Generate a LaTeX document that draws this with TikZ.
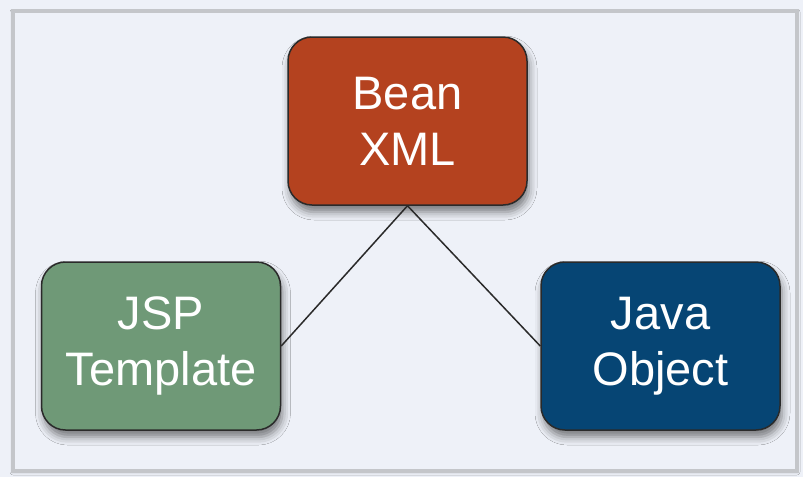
\documentclass[tikz,border=0pt]{standalone}
\usepackage{fontspec}
\setmainfont{Liberation Sans}
\usetikzlibrary{shadows.blur}
\definecolor{pagebg}{HTML}{EEF1F8}
\definecolor{framegray}{HTML}{C4C6CA}
\definecolor{beanred}{HTML}{B4421F}
\definecolor{jspgreen}{HTML}{6F9977}
\definecolor{javablue}{HTML}{064574}
\definecolor{edgedark}{HTML}{2A2A2A}
\tikzset{
  box/.style={draw=edgedark, line width=1.5pt, rounded corners=24pt,
    minimum width=239pt, minimum height=168pt, inner sep=0pt,
    text=white, align=center,
    font=\fontsize{47}{56}\selectfont,
    blur shadow={shadow xshift=2pt, shadow yshift=-7pt, shadow blur radius=8pt, shadow opacity=50}},
  link/.style={draw=edgedark, line width=1.5pt}
}
\begin{document}
\begin{tikzpicture}[x=1pt,y=-1pt]
\fill[pagebg] (0,0) rectangle (803,477);
\useasboundingbox (0,0) rectangle (803,477);
\draw[framegray, line width=3.5pt, fill=pagebg,
  blur shadow={shadow xshift=0pt, shadow yshift=-1pt, shadow blur radius=3pt, shadow opacity=25}]
  (13,11) rectangle (797,471);
\node[box, fill=beanred] (bean) at (407.5,121) {Bean\\XML};
\node[box, fill=jspgreen] (jsp) at (161,346) {JSP\\Template};
\node[box, fill=javablue] (java) at (660.5,346) {Java\\Object};
\draw[link] (bean.south) -- (jsp.east);
\draw[link] (bean.south) -- (java.west);
\end{tikzpicture}
\end{document}
